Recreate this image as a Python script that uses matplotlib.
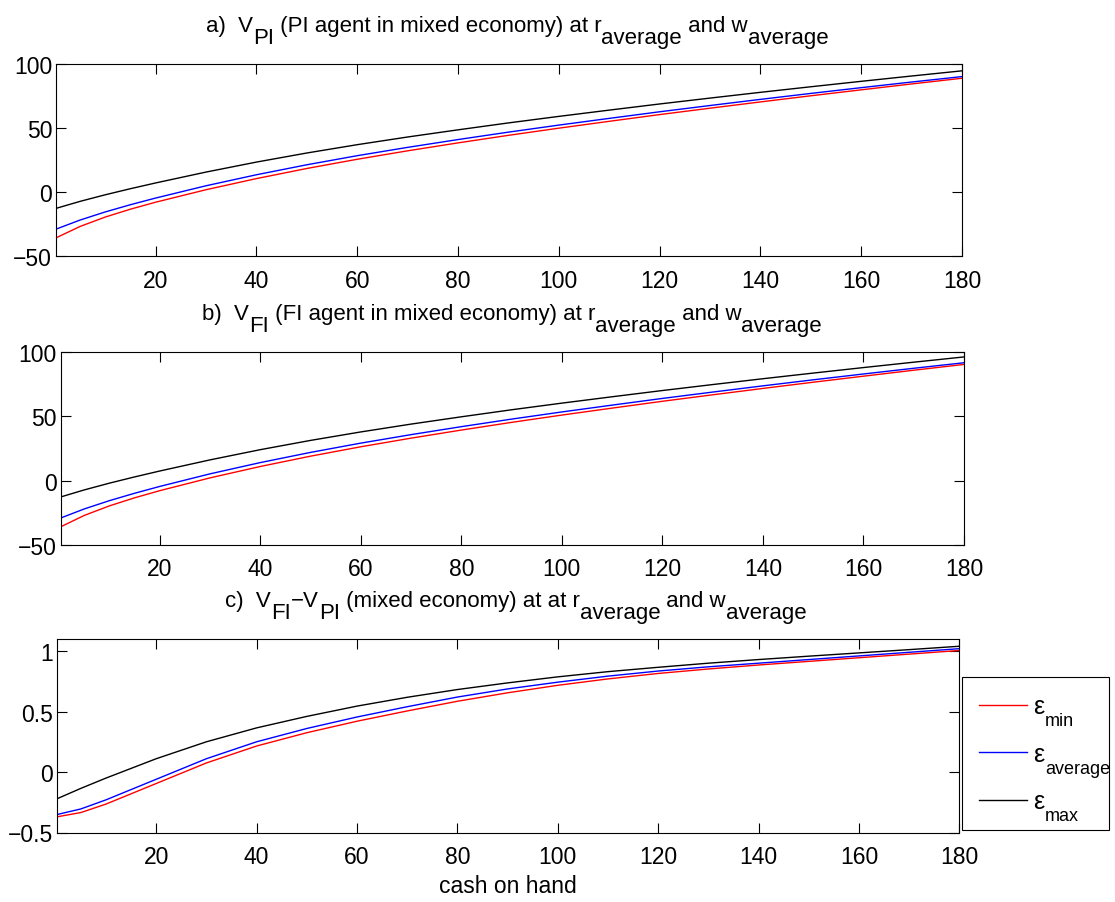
import numpy as np
import matplotlib
matplotlib.use("Agg")
import matplotlib.pyplot as plt
from matplotlib.transforms import IdentityTransform

plt.rcParams['font.family'] = ['Liberation Sans', 'DejaVu Sans']

# cash on hand grid
cash = [0.3, 5, 10, 15, 20, 30, 40, 50, 60, 70, 80, 90, 100, 110, 120,
        130, 140, 150, 160, 170, 180]

# a) V_PI
vpi_min = [-35.5, -26.7, -19.35, -13.2, -7.75, 2.0, 10.7, 18.6, 25.8, 32.4, 38.6,
           44.5, 50.1, 55.45, 60.7, 65.7, 70.6, 75.4, 80.05, 84.65, 89.1]
vpi_avg = [-28.7, -21.7, -15.35, -9.7, -4.5, 5.1, 13.7, 21.5, 28.6, 35.1, 41.2,
           47.0, 52.5, 57.75, 62.9, 67.8, 72.6, 77.25, 81.75, 86.15, 90.4]
vpi_max = [-12.5, -7.1, -1.95, 2.8, 7.3, 15.8, 23.6, 30.7, 37.2, 43.2, 48.8,
           54.2, 59.3, 64.2, 69.0, 73.6, 78.1, 82.45, 86.7, 90.85, 94.9]

# b) V_FI
vfi_min = [-35.87, -27.04, -19.62, -13.38, -7.85, 2.08, 10.92, 18.93, 26.22, 32.91,
           39.19, 45.16, 50.82, 56.22, 61.52, 66.55, 71.49, 76.32, 81.0, 85.63, 90.11]
vfi_avg = [-29.05, -22.0, -15.58, -9.85, -4.56, 5.21, 13.95, 21.86, 29.06, 35.65,
           41.83, 47.69, 53.25, 58.55, 63.74, 68.67, 73.5, 78.18, 82.71, 87.14, 91.42]
vfi_max = [-12.72, -7.24, -2.0, 2.83, 7.41, 16.05, 23.97, 31.16, 37.74, 43.82,
           49.48, 54.94, 60.09, 65.03, 69.87, 74.5, 79.03, 83.41, 87.69, 91.86, 95.94]

# c) V_FI - V_PI
diff_min = [-0.37, -0.335, -0.265, -0.18, -0.095, 0.075, 0.215, 0.325, 0.42, 0.505,
            0.585, 0.655, 0.717, 0.77, 0.815, 0.852, 0.885, 0.915, 0.945, 0.975, 1.005]
diff_avg = [-0.351, -0.305, -0.23, -0.145, -0.06, 0.11, 0.25, 0.36, 0.455, 0.54,
            0.62, 0.687, 0.743, 0.793, 0.835, 0.87, 0.90, 0.93, 0.96, 0.99, 1.02]
diff_max = [-0.22, -0.135, -0.05, 0.03, 0.11, 0.25, 0.365, 0.46, 0.545, 0.618,
            0.682, 0.737, 0.787, 0.83, 0.866, 0.90, 0.93, 0.958, 0.985, 1.012, 1.04]

# titles as (text, is_subscript) pieces
titles = [[('a)  V', 0), ('PI', 1), (' (PI agent in mixed economy) at r', 0),
           ('average', 1), (' and w', 0), ('average', 1)],
          [('b)  V', 0), ('FI', 1), (' (FI agent in mixed economy) at r', 0),
           ('average', 1), (' and w', 0), ('average', 1)],
          [('c)  V', 0), ('FI', 1), ('\u2212V', 0), ('PI', 1),
           (' (mixed economy) at at r', 0), ('average', 1), (' and w', 0),
           ('average', 1)]]
title_centers = [517, 512, 516]
leg_subs = ['min', 'average', 'max']
colors = ['red', 'blue', 'black']

W, H = 1115, 903
fig = plt.figure(figsize=(W / 100, H / 100), dpi=100)

# axes boxes in pixels: left, top, right, bottom
boxes = [(56.3, 65.3, 962, 257.3),
         (60.7, 352.7, 964, 546),
         (57.3, 640, 959.3, 833.5)]
series = [(vpi_min, vpi_avg, vpi_max),
          (vfi_min, vfi_avg, vfi_max),
          (diff_min, diff_avg, diff_max)]
ylims = [(-50, 100), (-50, 100), (-0.5, 1.1)]
yticks = [[-50, 0, 50, 100], [-50, 0, 50, 100], [-0.5, 0, 0.5, 1]]
yticklabels = [['\u221250', '0', '50', '100'], ['\u221250', '0', '50', '100'],
               ['\u22120.5', '0', '0.5', '1']]
FS = 16.5

axes = []
for i in range(3):
    l, t, r, b = boxes[i]
    ax = fig.add_axes([l / W, 1 - b / H, (r - l) / W, (b - t) / H])
    for ys, c in zip(series[i], colors):
        ax.plot(cash, ys, color=c, lw=1.0, label='ε')
    ax.set_xlim(0.3, 180)
    ax.set_ylim(*ylims[i])
    ax.set_xticks(range(20, 181, 20))
    ax.set_yticks(yticks[i])
    ax.set_yticklabels(yticklabels[i])
    ax.tick_params(direction='in', top=True, right=True, length=7.5, width=0.8,
                   labelsize=FS)
    ax.tick_params(axis='x', pad=9)
    ax.tick_params(axis='y', pad=3)
    for s in ax.spines.values():
        s.set_linewidth(0.8)
    axes.append(ax)

axes[2].set_xlabel('cash on hand', fontsize=FS, labelpad=4)

leg = fig.legend(*axes[2].get_legend_handles_labels(), loc='upper left',
                 bbox_to_anchor=(962.3 / W, 1 - 679.3 / H, 146.4 / W, 0.001),
                 mode='expand', fontsize=18, fancybox=False, edgecolor='black',
                 framealpha=1, handlelength=1.9, labelspacing=0.94,
                 borderpad=0.68, handletextpad=0.25, borderaxespad=0)
leg.get_frame().set_linewidth(0.8)

fig.canvas.draw()
renderer = fig.canvas.get_renderer()


def text_width(s, size):
    t = fig.text(0, 0, 'x' + s + 'x', fontsize=size)
    w = t.get_window_extent(renderer).width
    t.set_text('xx')
    w -= t.get_window_extent(renderer).width
    t.remove()
    return w


# titles with full-size, lowered subscripts
TFS = 16
for i, pieces in enumerate(titles):
    base = boxes[i][1] - 33
    drop = 12
    widths = [text_width(s, TFS) for s, _ in pieces]
    x = title_centers[i] - sum(widths) / 2
    for (s, sub), w in zip(pieces, widths):
        y = base + (drop if sub else 0)
        fig.text(x / W, 1 - y / H, s, fontsize=TFS, ha='left', va='baseline')
        x += w

# legend subscripts next to each epsilon
for txt, sub in zip(leg.get_texts(), leg_subs):
    bb = txt.get_window_extent(renderer)
    fig.text(bb.x1 + 1, bb.y0 - 7, sub, fontsize=13, ha='left',
             va='baseline', transform=IdentityTransform(), zorder=10)

fig.savefig('out.png', dpi=100)
